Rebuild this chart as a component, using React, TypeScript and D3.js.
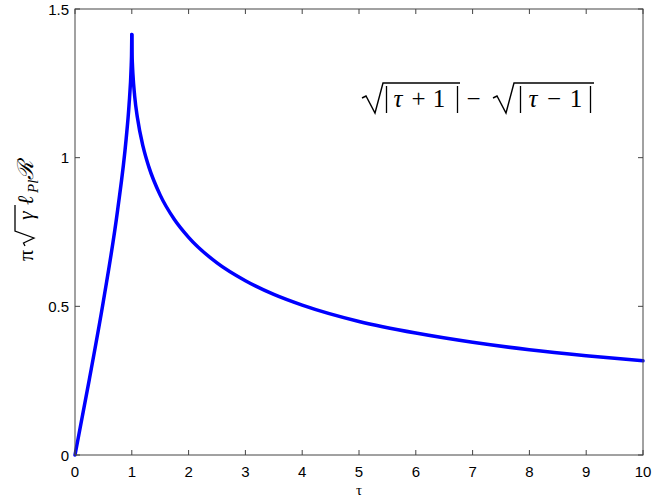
import React from "react";
import * as d3 from "d3";

// Rising branch, 0 ≤ τ ≤ 1
const tauRise = [0, 0.25, 0.5, 0.75, 0.9, 0.95, 0.99, 0.995, 1];
const valRise = [0, 0.252, 0.518, 0.823, 1.062, 1.173, 1.311, 1.342, 1.414];

// Falling branch, 1 ≤ τ ≤ 10
const tauFall = [1, 1.005, 1.01, 1.02, 1.05, 1.1, 1.2, 1.3, 1.5, 1.75, 2, 2.5, 3, 3.5, 4, 5, 6, 7, 8, 9, 10];
const valFall = [1.414, 1.345, 1.318, 1.28, 1.208, 1.133, 1.036, 0.969, 0.874, 0.792, 0.732, 0.646, 0.586, 0.54, 0.504, 0.449, 0.41, 0.379, 0.354, 0.334, 0.317];

const xTicks = [0, 1, 2, 3, 4, 5, 6, 7, 8, 9, 10];
const yTicks = [0, 0.5, 1, 1.5];
const yTickLabels = ["0", "0.5", "1", "1.5"];

const W = 652;
const H = 499;
const left = 75;
const right = 643;
const top = 9;
const bottom = 455;

const sans = "Liberation Sans, Arial, Helvetica, sans-serif";
const serif = "Liberation Serif, DejaVu Serif, Times New Roman, serif";

export default function App() {
  const x = d3.scaleLinear().domain([0, 10]).range([left, right]);
  const y = d3.scaleLinear().domain([0, 1.5]).range([bottom, top]);

  const line = d3
    .line<[number, number]>()
    .x((d) => x(d[0]))
    .y((d) => y(d[1]))
    .curve(d3.curveMonotoneX);

  const rise = line(tauRise.map((t, i) => [t, valRise[i]]) as [number, number][]);
  const fall = line(tauFall.map((t, i) => [t, valFall[i]]) as [number, number][]);

  const axisColor = "#444";
  const tickLen = 5;
  const fb = 107; // formula baseline

  return (
    <svg
      width={W}
      height={H}
      style={{ position: "absolute", left: 0, top: 0, background: "#fff" }}
    >
      <rect x={0} y={0} width={W} height={H} fill="#fff" />

      {/* curve */}
      <path d={rise ?? ""} fill="none" stroke="#0000ff" strokeWidth={3.5} strokeLinejoin="round" strokeLinecap="round" />
      <path d={fall ?? ""} fill="none" stroke="#0000ff" strokeWidth={3.5} strokeLinejoin="round" strokeLinecap="round" />

      {/* frame */}
      <rect x={left} y={top} width={right - left} height={bottom - top} fill="none" stroke={axisColor} strokeWidth={1} />

      {/* x ticks */}
      {xTicks.map((t) => (
        <g key={"x" + t}>
          <line x1={x(t)} x2={x(t)} y1={bottom} y2={bottom - tickLen} stroke={axisColor} />
          <line x1={x(t)} x2={x(t)} y1={top} y2={top + tickLen} stroke={axisColor} />
          <text x={x(t)} y={477} textAnchor="middle" fontFamily={sans} fontSize={15} fill="#000">
            {t}
          </text>
        </g>
      ))}

      {/* y ticks */}
      {yTicks.map((t, i) => (
        <g key={"y" + t}>
          <line x1={left} x2={left + tickLen} y1={y(t)} y2={y(t)} stroke={axisColor} />
          <line x1={right} x2={right - tickLen} y1={y(t)} y2={y(t)} stroke={axisColor} />
          <text x={69} y={y(t) + 5.5} textAnchor="end" fontFamily={sans} fontSize={15} fill="#000">
            {yTickLabels[i]}
          </text>
        </g>
      ))}

      {/* x label */}
      <text x={359} y={495} textAnchor="middle" fontFamily={serif} fontSize={15} fill="#000">
        τ
      </text>

      {/* y label: π √γ ℓ_Pl ℛ */}
      <g transform="translate(33, 261) rotate(-90)" fill="#000" fontFamily={serif}>
        <text x={0} y={0} fontSize={22}>π</text>
        <path d="M15,-8 L18,-9.5 L23,1 L30,-18 L56,-18" fill="none" stroke="#000" strokeWidth={1.3} />
        <text x={41} y={0} fontSize={22} fontStyle="italic">γ</text>
        <text x={56} y={0} fontSize={22} fontStyle="italic">ℓ</text>
        <text x={68} y={5} fontSize={15} fontStyle="italic">Pl</text>
        <text x={81} y={0} fontSize={22} fontStyle="italic">ℛ</text>
      </g>

      {/* formula annotation: √|τ + 1| − √|τ − 1| */}
      <g fill="#000" fontFamily={serif} fontSize={25} textAnchor="middle">
        <path d="M362,98 L366,96 L375,113 L383,83 L460,83" fill="none" stroke="#000" strokeWidth={1.4} strokeLinejoin="miter" />
        <line x1={386.5} x2={386.5} y1={86} y2={113} stroke="#000" strokeWidth={1.3} />
        <text x={398} y={fb} fontStyle="italic">τ</text>
        <text x={418.5} y={fb}>+</text>
        <text x={439} y={fb}>1</text>
        <line x1={457.5} x2={457.5} y1={86} y2={113} stroke="#000" strokeWidth={1.3} />
        <text x={473.5} y={fb}>−</text>
        <path d="M493,98 L497,96 L506,113 L514,83 L594,83" fill="none" stroke="#000" strokeWidth={1.4} strokeLinejoin="miter" />
        <line x1={520.5} x2={520.5} y1={86} y2={113} stroke="#000" strokeWidth={1.3} />
        <text x={533} y={fb} fontStyle="italic">τ</text>
        <text x={554} y={fb}>−</text>
        <text x={576} y={fb}>1</text>
        <line x1={590.5} x2={590.5} y1={86} y2={113} stroke="#000" strokeWidth={1.3} />
      </g>
    </svg>
  );
}
